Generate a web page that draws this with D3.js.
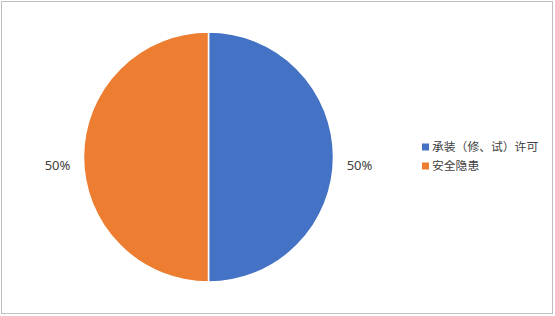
<!DOCTYPE html>
<html><head><meta charset="utf-8">
<script src="https://cdn.jsdelivr.net/npm/d3@7"></script>
<style>html,body{margin:0;padding:0;background:#fff;}</style>
</head><body>
<script>
const categories = ["承装（修、试）许可", "安全隐患"];
const values = [50, 50];
const colors = ["#4472C4", "#ED7D31"];

const W = 555, H = 316;
const svg = d3.select("body").append("svg").attr("width", W).attr("height", H);
svg.append("rect").attr("x", 1.5).attr("y", 1.5).attr("width", 551).attr("height", 312)
  .attr("fill", "#fff").attr("stroke", "#BFBFBF").attr("stroke-width", 1);

const cx = 208.5, cy = 157, r = 125;
const total = d3.sum(values);
const pie = d3.pie().sort(null).value(d => d)(values);
const arc = d3.arc().innerRadius(0).outerRadius(r);
const g = svg.append("g").attr("transform", `translate(${cx},${cy})`);
g.selectAll("path").data(pie).enter().append("path")
  .attr("d", arc).attr("fill", (d, i) => colors[i])
  .attr("stroke", "#fff").attr("stroke-width", 1.5);

const labelArc = d3.arc().innerRadius(r + 26).outerRadius(r + 26);
g.selectAll("text.lbl").data(pie).enter().append("text")
  .attr("class", "lbl")
  .attr("x", d => labelArc.centroid(d)[0])
  .attr("y", d => labelArc.centroid(d)[1] + 8)
  .attr("dy", "0.35em")
  .attr("text-anchor", "middle")
  .attr("font-family", "'Noto Sans', 'Open Sans', sans-serif")
  .attr("font-size", 13).attr("fill", "#404040")
  .text(d => Math.round(d.value / total * 100) + "%");

const lg = svg.append("g").attr("transform", "translate(422,147)");
categories.forEach((c, i) => {
  const row = lg.append("g").attr("transform", `translate(0,${i * 19})`);
  row.append("rect").attr("x", 0).attr("y", -3.5).attr("width", 7).attr("height", 7).attr("fill", colors[i]);
  row.append("text").attr("x", 10).attr("y", 0).attr("dy", "0.35em")
    .attr("font-family", "'Noto Sans CJK SC', sans-serif").attr("font-size", 11.8)
    .attr("fill", "#404040").text(c);
});
</script>
</body></html>
